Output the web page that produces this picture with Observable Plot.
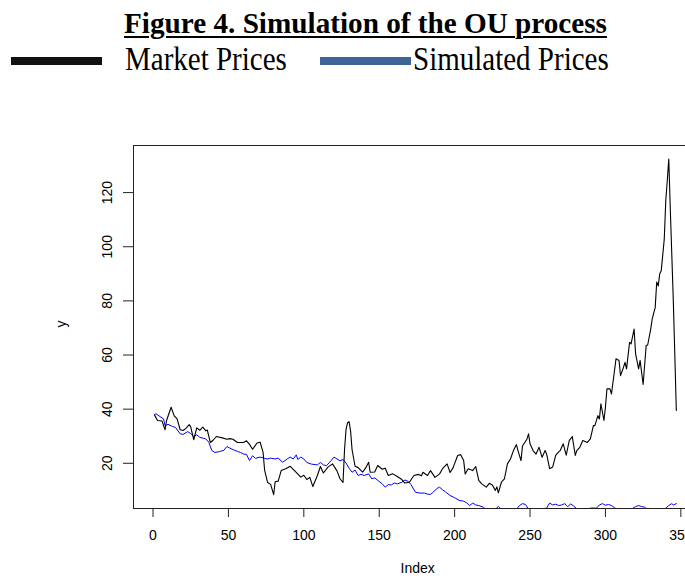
<!DOCTYPE html>
<html>
<head>
<meta charset="utf-8">
<script src="https://cdn.jsdelivr.net/npm/d3@7"></script>
<script src="https://cdn.jsdelivr.net/npm/@observablehq/plot@0.6"></script>
<style>
  html, body { margin: 0; padding: 0; background: #fff; overflow: hidden; width: 685px; height: 579px; }
  #hdr { position: relative; width: 685px; height: 80px; font-family: "Liberation Serif", "Times New Roman", serif; color: #000; }
  #hdr .title { position: absolute; left: 124px; top: 8.5px; font-size: 29.2px; line-height: 29.2px; font-weight: bold; white-space: nowrap;
    text-decoration: underline; text-decoration-thickness: 2px; text-underline-offset: 3px; }
  #hdr .lt { position: absolute; top: 45.5px; font-size: 29px; line-height: 29px; white-space: nowrap; transform: scaleY(1.18); transform-origin: 0 24.3px; }
  #hdr .sw { position: absolute; top: 57px; height: 8px; }
  #chart { width: 711px; }
  #chart svg { max-width: none !important; }
</style>
</head>
<body>
<div id="hdr">
  <div class="title">Figure 4. Simulation of the OU process</div>
  <div class="sw" style="left:11px;width:91px;background:#111;"></div>
  <div class="lt" style="left:125px;">Market Prices</div>
  <div class="sw" style="left:320px;width:91px;background:#3d6598;"></div>
  <div class="lt" style="left:413px;">Simulated Prices</div>
</div>
<div id="chart"></div>
<script>
// Market prices (index, value)
const marketIdx = [1,3,6,8,9,12,14,16,18,20,22,24,25,27,29,31,33,35,36,38,40,42,46,49,51,53,56,60,62,64,66,69,71,73,74,76,78,80,81,83,85,88,91,94,98,100,102,104,106,109,111,113,116,119,122,124,126,127,128,129,130,131,132,134,136,139,141,143,144,147,149,152,154,156,159,162,165,167,170,173,176,178,179,182,184,187,190,192,195,197,199,202,204,206,207,209,212,214,216,218,221,223,225,227,228,229,231,233,235,237,239,241,242,244,245,248,249,250,252,254,256,258,260,261,263,265,267,269,270,272,274,276,278,280,281,283,285,288,290,292,293,295,296,297,299,300,301,303,304,306,307,309,310,312,313,314,316,317,319,320,322,323,325,327,328,330,331,332,333,334,335,336,337,338,339,340,341,342,343,345,346,347];
const marketVal = [37.8,35.8,35.6,32.4,35.8,40.7,37.6,36.4,32.4,32.1,33.0,34.3,33.5,28.7,33.1,32.2,33.4,32.0,32.3,27.7,28.6,29.9,29.4,28.9,29.1,28.9,27.7,27.7,28.3,27.0,25.2,27.5,27.8,24.0,17.5,12.9,12.2,8.4,13.2,13.4,17.3,18.0,18.9,17.2,14.9,15.6,14.0,14.8,11.4,15.5,18.8,16.4,18.6,19.8,17.2,14.3,12.9,25.0,32.5,35.0,35.4,32.0,25.0,18.9,18.4,16.7,18.3,20.4,16.7,16.8,19.2,17.8,18.2,15.5,16.1,15.1,14.0,12.7,13.0,15.5,15.9,15.4,16.7,15.5,17.3,14.8,16.1,18.0,19.8,16.6,18.4,22.9,23.2,21.0,16.1,18.0,17.3,18.8,13.7,12.4,11.2,12.6,12.0,10.0,11.3,9.1,13.0,14.2,19.8,21.6,24.7,26.9,24.7,21.0,26.4,29.0,30.9,27.2,24.7,23.4,25.9,22.2,24.7,23.4,18.0,18.6,22.9,24.2,24.7,27.2,23.0,28.4,29.9,22.9,24.7,25.9,28.4,27.7,29.0,33.9,33.9,37.6,36.4,42.0,35.8,40.7,47.5,47.5,45.6,54.2,58.6,58.0,52.4,55.5,57.3,54.9,64.7,64.1,69.6,60.4,54.9,58.0,49.1,63.5,63.7,69.5,73.3,75.5,77.5,87.0,85.5,90.0,91.1,97.0,102.8,117.0,124.4,132.4,114.0,80.1,60.0,39.5];

// Simulated prices (index, value)
const simIdx = [1,2,4,7,8,10,13,15,18,20,23,25,27,29,31,35,37,39,41,44,47,49,51,54,56,58,60,62,64,66,68,71,74,76,78,81,83,86,89,91,93,95,96,98,100,102,105,109,111,113,115,118,120,122,124,126,128,130,132,134,136,138,140,143,145,147,149,152,154,156,158,160,162,165,167,169,171,174,177,180,182,184,186,188,190,192,194,197,200,203,206,208,210,212,214,216,219,221,224,227,229,231,235,238,241,243,245,247,249,252,256,259,261,263,265,267,269,271,273,275,277,279,281,283,286,289,291,294,296,298,300,302,304,306,308,311,314,317,320,322,324,326,328,331,334,336,338,340,342,344,345,347];
const simVal = [38.0,38.3,37.5,36.4,33.9,34.4,33.6,33.2,30.9,30.7,31.7,31.0,29.9,30.5,29.6,29.0,27.8,24.7,24.0,24.3,24.8,26.2,25.6,24.8,24.4,24.0,23.4,23.3,21.0,22.8,21.8,22.3,21.8,21.6,21.9,21.6,21.9,20.4,21.6,22.3,21.6,23.1,21.4,22.3,21.6,20.3,19.7,19.4,20.3,19.4,19.1,20.9,22.3,21.6,20.9,21.4,20.1,18.2,16.7,17.5,15.5,15.9,15.5,16.1,14.3,14.6,13.7,12.4,11.2,12.1,12.0,12.7,12.4,13.0,13.8,13.4,12.2,9.3,9.0,9.0,8.6,8.5,9.4,10.6,11.2,10.2,9.4,8.1,7.3,6.3,6.0,5.4,4.4,5.3,4.6,4.4,3.8,2.8,2.9,3.0,4.1,3.0,2.9,3.0,3.0,4.4,5.1,4.8,3.0,2.9,3.0,3.3,3.4,5.3,4.6,4.9,4.4,4.6,5.1,4.0,5.0,4.2,3.2,2.8,2.9,3.3,3.5,3.4,4.6,5.1,4.5,4.8,4.4,3.6,2.9,3.2,3.3,3.0,4.0,4.4,4.0,3.8,2.8,2.6,2.8,2.7,3.0,3.4,4.4,5.1,4.6,5.1];

const xTicks = [0, 50, 100, 150, 200, 250, 300, 350];
const yTicks = [20, 40, 60, 80, 100, 120];

const market = marketIdx.map((x, k) => ({x, y: marketVal[k]}));
const sim = simIdx.map((x, k) => ({x, y: simVal[k]}));

const chart = Plot.plot({
  width: 711,
  height: 499,
  marginLeft: 133,
  marginRight: 9.6,
  marginTop: 65,
  marginBottom: 71,
  style: {fontFamily: "'Liberation Sans', Arial, sans-serif", fontSize: "14px", background: "#fff", maxWidth: "none", color: "#000"},
  x: {domain: [-12.93, 363.96]},
  y: {domain: [3.3, 137.4]},
  marks: [
    Plot.line(sim, {x: "x", y: "y", stroke: "#0000ff", strokeWidth: 1, clip: true}),
    Plot.line(market, {x: "x", y: "y", stroke: "#000", strokeWidth: 1.1, clip: true}),
    Plot.frame({stroke: "#222", strokeWidth: 1}),
    Plot.axisX({ticks: xTicks, tickSize: 9, tickPadding: 13, fontSize: 14, label: null, stroke: "#222"}),
    Plot.axisY({ticks: yTicks, tickSize: 10, tickFormat: () => "", label: null, stroke: "#222"}),
    Plot.text(yTicks, {y: d => d, frameAnchor: "left", text: d => String(d), rotate: -90, dx: -26.3, fontSize: 14, lineAnchor: "middle", textAnchor: "middle"}),
    Plot.text(["y"], {frameAnchor: "left", text: d => d, rotate: -90, dx: -71.5, dy: -3, fontSize: 14, lineAnchor: "middle", textAnchor: "middle"}),
    Plot.text(["Index"], {frameAnchor: "bottom", text: d => d, dy: 60, fontSize: 14, lineAnchor: "middle", textAnchor: "middle"})
  ]
});
document.getElementById("chart").appendChild(chart);
</script>
</body>
</html>
